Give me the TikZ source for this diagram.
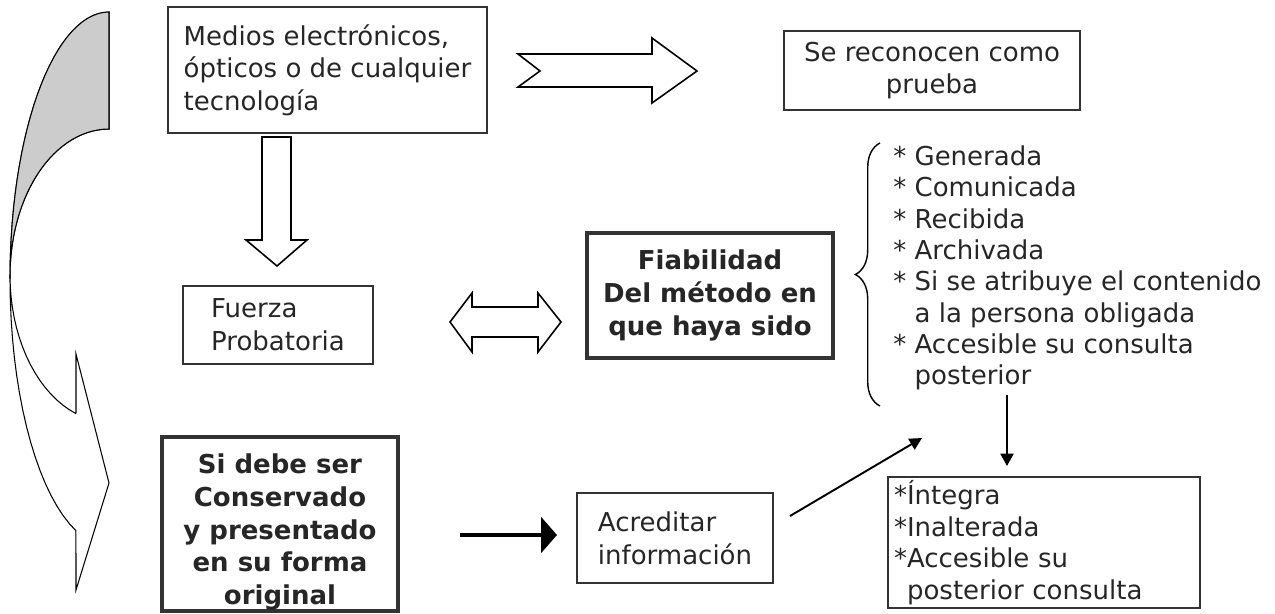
\documentclass[tikz,border=0pt]{standalone}
\usepackage{fontspec}
\setmainfont{DejaVu Sans}
\usetikzlibrary{arrows.meta,decorations.pathreplacing}

\begin{document}
\begin{tikzpicture}[x=0.02cm,y=-0.02cm,
    every node/.style={font=\fontsize{14.8}{18.6}\selectfont, text=black!85},
    box/.style={draw=black!80, line width=1.2pt, inner sep=0pt},
    bigbox/.style={draw=black!80, line width=2.2pt, inner sep=0pt},
    blockarrow/.style={draw, line width=0.9pt, fill=white, line join=miter}]
    \useasboundingbox (0,0) rectangle (1275,613);

    % curved arrow on the left
    \draw[line width=0.6pt, fill=white]
      plot[domain=270:109.5, samples=40, variable=\t] ({109+99*cos(\t)},{279+267*sin(\t)})
      -- (76,590) -- (109,483) -- (76,354) -- (76,413)
      -- plot[domain=109.7:270, samples=40, variable=\t] ({109+99*cos(\t)},{275.5+146.5*sin(\t)})
      -- cycle;
    \filldraw[fill=black!20, line width=0.6pt]
      plot[domain=270:180, samples=30, variable=\t] ({109+99*cos(\t)},{279+267*sin(\t)})
      -- plot[domain=180:270, samples=30, variable=\t] ({109+99*cos(\t)},{275.5+146.5*sin(\t)})
      -- cycle;

    % boxes
    \node[box, minimum width=6.38cm, minimum height=2.52cm, align=left] (medios) at (327.5,70)
      {Medios electrónicos,\\ ópticos o de cualquier\\ tecnología};
    \node[box, minimum width=5.92cm, minimum height=1.58cm, align=center] (prueba) at (932,70.5)
      {Se reconocen como\\ prueba};
    \node[box, minimum width=3.8cm, minimum height=1.56cm, align=left] (fuerza) at (278,325)
      {Fuerza\\ Probatoria};
    \node[bigbox, minimum width=4.92cm, minimum height=2.5cm, align=center,
          font=\fontsize{14.8}{18.6}\selectfont\bfseries] (fiabilidad) at (710,295.5)
      {Fiabilidad\\ Del método en\\ que haya sido};
    \node[bigbox, minimum width=4.72cm, minimum height=3.48cm] (conservar) at (280,524) {};
    \node[align=center, font=\fontsize{14.8}{18.7}\selectfont\bfseries] (conservartxt) at (280,532)
      {Si debe ser\\ Conservado\\ y presentado\\ en su forma\\ original};
    \node[box, minimum width=3.92cm, minimum height=1.8cm, align=left] (acreditar) at (675,538)
      {Acreditar\\ información};
    \node[box, text width=6.0cm, inner xsep=0.12cm, minimum height=2.62cm, align=left,
          font=\fontsize{14.8}{18}\selectfont] (integra) at (1044,542.5)
      {{*}Íntegra\\ {*}Inalterada\\ {*}Accesible su\\ \phantom{*}posterior consulta};

    % list with brace
    \draw[line width=0.8pt, decorate, decoration={brace, amplitude=14pt}] (880,406) -- (880,143);
    \node[anchor=west, align=left, inner sep=0pt, font=\fontsize{14.8}{17.8}\selectfont] (requisitos) at (893,268)
      {{*} Generada\\ {*} Comunicada\\ {*} Recibida\\ {*} Archivada\\ {*} Si se atribuye el contenido\\
       \phantom{*} a la persona obligada\\ {*} Accesible su consulta\\ \phantom{*} posterior};

    % block arrows
    \draw[blockarrow] (518,54) -- (652,54) -- (652,38) -- (697,71) -- (652,103) -- (652,87)
      -- (518,87) -- (540,71) -- cycle;
    \draw[blockarrow] (262,137) -- (291,137) -- (291,240) -- (307,240) -- (277,266) -- (246,240)
      -- (262,240) -- cycle;
    \draw[blockarrow] (450,322) -- (472,293) -- (472,307) -- (538,307) -- (538,293) -- (561,322)
      -- (538,352) -- (538,337) -- (472,337) -- (472,352) -- cycle;

    % line arrows
    \coordinate (inicio) at (460,535);
    \draw[line width=2.3pt, -{Triangle[length=9pt,width=20pt]}, shorten >=10.8pt]
      (inicio) -- (inicio -| acreditar.west);
    \coordinate (diagA) at (790,516);
    \coordinate (diagB) at (922,438);
    \draw[line width=1.1pt, -{Triangle[length=7pt,width=7pt]}] (diagA) -- (diagB);
    \coordinate (bajo) at (1007,395);
    \draw[line width=0.9pt, -{Triangle[length=7pt,width=7.5pt]}, shorten >=5.7pt]
      (bajo) -- (bajo |- integra.north);
\end{tikzpicture}
\end{document}
